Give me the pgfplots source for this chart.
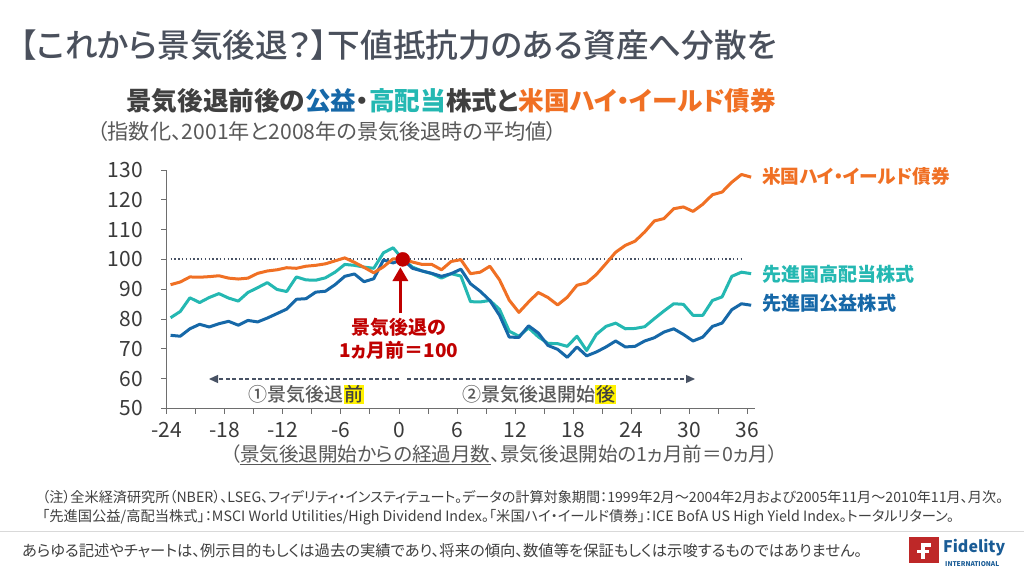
\documentclass[border=0pt]{standalone}
\usepackage{graphicx}
\usepackage{pgfplots}
\pgfplotsset{compat=1.18}
\usepackage{pgfplotstable}
\usepackage{fontspec}
\usetikzlibrary{arrows.meta}
\setmainfont{Noto Sans CJK JP}[RawFeature=+palt]
\newfontfamily\jpmed{Noto Sans CJK JP Medium}[RawFeature=+palt]
\definecolor{hy}{RGB}{240,112,36}
\definecolor{hd}{RGB}{36,184,178}
\definecolor{ut}{RGB}{22,104,168}
\definecolor{rd}{RGB}{192,0,0}
\definecolor{ttl}{RGB}{74,80,92}
\definecolor{txt}{RGB}{89,89,89}
\definecolor{dk}{RGB}{64,64,64}
\definecolor{axg}{RGB}{110,110,110}
\definecolor{arw}{RGB}{72,82,100}
\definecolor{fid}{RGB}{26,92,150}
\definecolor{fidred}{RGB}{190,40,40}
\definecolor{sep}{RGB}{217,217,217}
\newcommand\fs[1]{\fontsize{#1}{#1}\selectfont}
\pgfplotstableread{
m hy hd ut
-24 91.5 80.4 74.5
-23 92.4 82.5 74.2
-22 94.1 87.1 76.7
-21 94.0 85.5 78.2
-20 94.2 87.2 77.3
-19 94.5 88.5 78.4
-18 93.7 87.0 79.2
-17 93.4 86.0 77.9
-16 93.7 88.9 79.5
-15 95.3 90.5 79.0
-14 96.1 92.2 80.3
-13 96.5 89.9 81.8
-12 97.2 89.2 83.3
-11 97.0 94.1 86.6
-10 97.7 93.1 86.8
-9 98.0 93.0 89.0
-8 98.5 93.8 89.3
-7 99.5 95.7 91.5
-6 100.5 98.3 94.3
-5 99.0 98.0 95.1
-4 97.3 97.4 92.5
-3 95.5 97.0 93.5
-2 97.5 102.2 99.8
-1 100.2 103.9 98.8
0 100 100 100
1 99.1 97.4 97.0
2 98.3 96.1 96.1
3 98.3 95.2 95.3
4 96.5 93.7 94.3
5 99.3 95.2 95.2
6 99.9 94.4 96.7
7 95.2 85.8 91.8
8 95.7 85.7 89.3
9 97.7 86.2 86.2
10 93.1 83.2 81.2
11 86.3 75.9 73.9
12 82.2 74.2 73.8
13 85.7 77.0 77.7
14 88.9 74.0 75.3
15 87.2 71.8 71.1
16 84.7 71.7 69.8
17 87.3 70.8 67.1
18 91.3 74.2 70.6
19 92.1 69.4 67.6
20 94.9 74.8 68.9
21 98.6 77.5 70.6
22 102.4 78.6 72.6
23 104.7 76.7 70.6
24 106.1 76.8 70.8
25 109.2 77.4 72.6
26 112.9 80.1 73.7
27 113.7 82.7 75.6
28 117.0 85.1 76.7
29 117.6 84.9 74.8
30 116.1 81.2 72.6
31 118.5 81.2 73.9
32 121.7 86.2 77.5
33 122.6 87.4 78.6
34 125.9 94.3 83.1
35 128.5 95.7 85.1
36 127.6 95.2 84.6
}\datatab
\begin{document}
\begin{tikzpicture}
\path[use as bounding box, fill=white] (0pt,0pt) rectangle (1024pt,576pt);
% titles
\node[anchor=west, inner sep=0pt, text=ttl] at (20pt,531pt) {\resizebox{757pt}{!}{\fs{30}\jpmed 【これから景気後退？】下値抵抗力のある資産へ分散を}};
\node[anchor=west, inner sep=0pt] at (126pt,475pt) {\resizebox{650pt}{!}{\fs{23}\bfseries{\color{dk}景気後退前後の}{\color{ut}公益}{\color{dk}・}{\color{hd}高配当}{\color{dk}株式と}{\color{hy}米国ハイ・イールド債券}}};
\node[anchor=west, inner sep=0pt, text=txt] at (97pt,445pt) {\resizebox{460pt}{!}{\fs{18}（指数化、2001年と2008年の景気後退時の平均値）}};
\begin{axis}[
 at={(166.7pt,167.7pt)}, anchor=south west,
 scale only axis, width=588.3pt, height=238.3pt,
 xmin=-24, xmax=36.8, ymin=50, ymax=130,
 axis x line*=bottom, axis y line*=left,
 axis line style={line width=0.8pt, color=axg},
 xtick={-24,-18,...,36}, minor xtick={-21,-15,...,33},
 ytick={50,60,...,130},
 tick align=outside, major tick length=5.5pt, minor tick length=5.5pt,
 every tick/.style={line width=0.8pt, color=axg},
 ticklabel style={font=\fs{21}, text=dk!90!black},
 /pgf/number format/assume math mode=true,
 xticklabel style={yshift=-5pt},
 yticklabel style={xshift=-15pt},
 clip=false,
]
\addplot[color=arw, line width=1.9pt, dash pattern=on 1.5pt off 2.3pt] coordinates {(-23.6,100) (35.7,100)};
\addplot[hd, line width=3pt, line join=round] table[x expr=\thisrow{m}+0.4, y=hd] {\datatab};
\addplot[ut, line width=3pt, line join=round] table[x expr=\thisrow{m}+0.4, y=ut] {\datatab};
\addplot[hy, line width=3pt, line join=round] table[x expr=\thisrow{m}+0.4, y=hy] {\datatab};
\addplot[only marks, mark=*, mark size=7pt, color=rd] coordinates {(0.4,100)};
\draw[rd, line width=3.5pt, -{Triangle[width=15pt,length=14pt]}] (axis cs:0.15,81.9) -- (axis cs:0.15,97.4);
\end{axis}
% right labels
\node[anchor=west, inner sep=0pt, text=hy] at (762pt,399.3pt) {\resizebox{188pt}{!}{\fs{19}\bfseries 米国ハイ・イールド債券}};
\node[anchor=west, inner sep=0pt, text=hd] at (762pt,301.7pt) {\resizebox{152pt}{!}{\fs{19}\bfseries 先進国高配当株式}};
\node[anchor=west, inner sep=0pt, text=ut] at (762pt,272.7pt) {\resizebox{134pt}{!}{\fs{19}\bfseries 先進国公益株式}};
% red annotation
\node[anchor=center, inner sep=0pt, text=rd] at (399pt,249pt) {\fs{19}\bfseries 景気後退の};
\node[anchor=center, inner sep=0pt, text=rd] at (399pt,226pt) {\fs{19}\bfseries 1ヵ月前＝100};
% dashed arrows
\draw[arw, line width=1.3pt, dash pattern=on 4pt off 2.5pt, -{Triangle[width=8pt,length=9pt]}] (398.7pt,197pt) -- (209pt,197pt);
\draw[arw, line width=1.3pt, dash pattern=on 4pt off 2.5pt, -{Triangle[width=8pt,length=9pt]}] (407pt,197pt) -- (695pt,197pt);
\setlength{\fboxsep}{0.6pt}
\node[anchor=center, inner sep=0pt, text=txt] at (306.5pt,181.6pt) {\fs{19}\jpmed ①景気後退\colorbox{yellow}{\color{dk}前}};
\node[anchor=center, inner sep=0pt, text=txt] at (539pt,181.6pt) {\fs{19}\jpmed ②景気後退開始\colorbox{yellow}{\color{dk}後}};
% x label
\node[anchor=west, inner sep=0pt, text=txt] at (230pt,121pt) {\resizebox{548pt}{!}{\fs{18.5}（\underline{景気後退開始からの経過月数}、景気後退開始の1ヵ月前＝0ヵ月）}};
% notes
\node[anchor=west, inner sep=0pt, text=dk] at (42pt,79pt) {\resizebox{961pt}{!}{\fs{11}（注）全米経済研究所（NBER）、LSEG、フィデリティ・インスティテュート。データの計算対象期間：1999年2月～2004年2月および2005年11月～2010年11月、月次。}};
\node[anchor=west, inner sep=0pt, text=dk] at (42pt,59pt) {\resizebox{912pt}{!}{\fs{11}「先進国公益/高配当株式」：MSCI World Utilities/High Dividend Index。「米国ハイ・イールド債券」：ICE BofA US High Yield Index。トータルリターン。}};
\draw[sep, line width=1pt] (0pt,45pt) -- (1024pt,45pt);
\node[anchor=west, inner sep=0pt, text=dk] at (22pt,25pt) {\resizebox{840pt}{!}{\fs{14}あらゆる記述やチャートは、例示目的もしくは過去の実績であり、将来の傾向、数値等を保証もしくは示唆するものではありません。}};
% logo
\fill[fidred] (909pt,13pt) rectangle (939pt,39pt);
\fill[white] (920.5pt,17pt) rectangle (924.5pt,33pt);
\fill[white] (920.5pt,29.5pt) rectangle (931pt,33pt);
\fill[white] (917pt,23.5pt) rectangle (929pt,26pt);
\node[anchor=west, inner sep=0pt, text=fid] at (943pt,28pt) {\resizebox{62pt}{!}{\fs{17}\bfseries Fidelity}};
\node[anchor=west, inner sep=0pt, text=fid] at (945pt,12pt) {\resizebox{54pt}{!}{\fs{4}\bfseries INTERNATIONAL}};
\end{tikzpicture}
\end{document}
